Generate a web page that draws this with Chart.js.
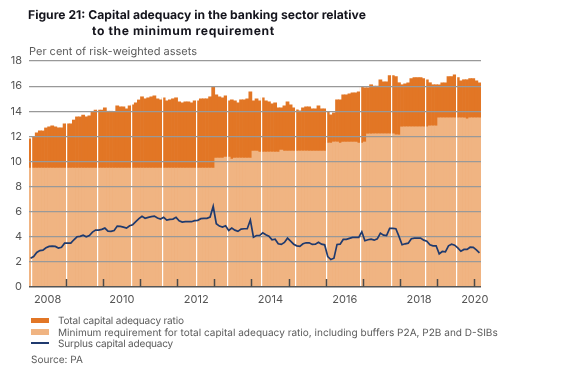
<!DOCTYPE html>
<html lang="en">
<head>
    <meta charset="UTF-8">
    <title>Figure 21</title>
    <script src="https://cdn.jsdelivr.net/npm/chart.js"></script>
    <style>
        html, body {
            margin: 0;
            padding: 0;
            background: #fff;
            font-family: Inter, Arial, sans-serif;
            text-rendering: geometricPrecision;
        }
        #wrap {
            position: relative;
            width: 586px;
            height: 378px;
            overflow: hidden;
        }
        #wrap div, #wrap span {
            position: absolute;
            white-space: nowrap;
        }
        .title {
            font-size: 12.15px;
            font-weight: 700;
            color: #14141c;
            line-height: 16px;
        }
        .note {
            font-size: 10.05px;
            color: #5a5a5a;
            line-height: 12px;
        }
    </style>
</head>
<body>
    <div id="wrap">
        <canvas id="chart" width="586" height="378"></canvas>
        <div class="title" style="left:28px;top:7px">Figure 21: Capital adequacy in the banking sector relative</div>
        <div class="title" style="left:92px;top:23px;letter-spacing:0.6px">to the minimum requirement</div>
        <div class="note" style="left:29px;top:45px;font-size:11px">Per cent of risk-weighted assets</div>
        <span style="left:31px;top:318px;width:18px;height:5px;background:#e27625"></span>
        <div class="note" style="left:58px;top:315px;letter-spacing:-0.18px">Total capital adequacy ratio</div>
        <span style="left:31px;top:329px;width:18px;height:6px;background:#f0b482"></span>
        <div class="note" style="left:58px;top:327px">Minimum requirement for total capital adequacy ratio, including buffers P2A, P2B and D-SIBs</div>
        <span style="left:31px;top:342px;width:18px;height:2px;background:#1f3a6e"></span>
        <div class="note" style="left:58px;top:338px;letter-spacing:-0.2px">Surplus capital adequacy</div>
        <div class="note" style="left:31px;top:354px">Source: PA</div>
    </div>

    <script>
        // monthly, Jan 2008 - Feb 2020
        const totalRatio = [
            11.8, 12.0, 12.27, 12.43, 12.43, 12.67, 12.75, 12.83, 12.75, 12.67, 12.67, 13.0,
            13.0, 13.0, 13.3, 13.55, 13.55, 13.7, 13.55, 13.63, 13.95, 14.1, 14.1, 14.1,
            14.27, 14.0, 14.0, 14.0, 14.43, 14.35, 14.35, 14.2, 14.43, 14.5, 14.67, 14.9,
            15.15, 14.99, 15.07, 15.15, 15.23, 14.99, 14.91, 15.07, 14.83, 14.91, 14.99, 15.07,
            14.75, 14.67, 14.75, 14.75, 14.67, 14.83, 14.83, 14.99, 14.99, 14.99, 15.15, 15.95,
            15.31, 15.15, 15.07, 15.23, 14.83, 14.91, 14.83, 14.67, 14.91, 14.91, 14.99, 15.55,
            14.83, 14.99, 14.83, 15.07, 14.83, 14.75, 14.59, 14.67, 14.27, 14.27, 14.43, 14.75,
            14.51, 14.27, 14.11, 14.03, 14.27, 14.35, 14.35, 14.19, 14.19, 14.43, 14.19, 14.19,
            13.95, 13.71, 13.87, 14.91, 14.91, 15.31, 15.31, 15.39, 15.47, 15.47, 15.55, 15.95,
            15.87, 15.87, 16.11, 16.0, 16.0, 16.51, 16.35, 16.35, 16.83, 16.83, 16.75, 16.27,
            16.11, 16.19, 16.27, 16.59, 16.67, 16.67, 16.67, 16.59, 16.51, 16.27, 16.11, 16.11,
            16.11, 16.27, 16.27, 16.75, 16.75, 16.9, 16.67, 16.43, 16.51, 16.51, 16.59, 16.59,
            16.43, 16.27
        ];
        const minRequirement = [
            9.47, 9.47, 9.47, 9.47, 9.47, 9.47, 9.47, 9.47, 9.47, 9.47, 9.47, 9.47,
            9.47, 9.47, 9.47, 9.47, 9.47, 9.47, 9.47, 9.47, 9.47, 9.47, 9.47, 9.47,
            9.47, 9.47, 9.47, 9.47, 9.47, 9.47, 9.47, 9.47, 9.47, 9.47, 9.47, 9.47,
            9.47, 9.47, 9.47, 9.47, 9.47, 9.47, 9.47, 9.47, 9.47, 9.47, 9.47, 9.47,
            9.47, 9.47, 9.47, 9.47, 9.47, 9.47, 9.47, 9.47, 9.47, 9.47, 9.47, 9.47,
            10.27, 10.27, 10.27, 10.35, 10.35, 10.19, 10.27, 10.27, 10.27, 10.27, 10.27, 10.27,
            10.83, 10.83, 10.75, 10.75, 10.75, 10.75, 10.75, 10.75, 10.75, 10.91, 10.83, 10.83,
            10.83, 10.83, 10.83, 10.83, 10.83, 10.83, 10.83, 10.83, 10.83, 10.83, 10.83, 10.83,
            11.47, 11.47, 11.55, 11.55, 11.47, 11.55, 11.55, 11.55, 11.55, 11.55, 11.47, 11.47,
            11.55, 12.19, 12.19, 12.19, 12.19, 12.19, 12.19, 12.19, 12.19, 12.19, 12.11, 12.11,
            12.75, 12.75, 12.75, 12.75, 12.75, 12.75, 12.75, 12.75, 12.75, 12.83, 12.83, 12.83,
            13.47, 13.47, 13.47, 13.47, 13.47, 13.47, 13.47, 13.47, 13.47, 13.39, 13.47, 13.47,
            13.47, 13.47
        ];
        const surplus = [
            2.29, 2.43, 2.75, 2.9, 2.93, 3.12, 3.23, 3.25, 3.23, 3.1, 3.17, 3.49,
            3.49, 3.49, 3.76, 4.0, 4.03, 4.13, 4.0, 4.1, 4.37, 4.53, 4.53, 4.59,
            4.69, 4.45, 4.43, 4.5, 4.85, 4.83, 4.77, 4.69, 4.88, 4.96, 5.2, 5.44,
            5.63, 5.47, 5.55, 5.6, 5.65, 5.49, 5.41, 5.55, 5.33, 5.39, 5.41, 5.55,
            5.28, 5.17, 5.2, 5.2, 5.2, 5.28, 5.31, 5.44, 5.47, 5.47, 5.57, 6.43,
            5.04, 4.85, 4.77, 4.88, 4.5, 4.69, 4.53, 4.43, 4.61, 4.64, 4.64, 5.33,
            3.97, 4.1, 4.1, 4.32, 4.16, 4.05, 3.76, 3.81, 3.44, 3.39, 3.55, 3.89,
            3.65, 3.41, 3.28, 3.23, 3.44, 3.52, 3.52, 3.39, 3.41, 3.57, 3.41, 3.36,
            2.43, 2.19, 2.29, 3.39, 3.41, 3.79, 3.79, 3.87, 3.95, 3.95, 3.95, 4.4,
            3.68, 3.76, 3.81, 3.73, 3.84, 4.29, 4.13, 4.1, 4.67, 4.67, 4.64, 4.03,
            3.36, 3.44, 3.49, 3.84, 3.89, 3.89, 3.89, 3.73, 3.65, 3.36, 3.28, 3.28,
            2.64, 2.83, 2.8, 3.28, 3.41, 3.33, 3.12, 2.85, 2.99, 2.99, 3.17, 3.15,
            2.96, 2.72
        ];
        const yearLabels = ['2008', '2010', '2012', '2014', '2016', '2018', '2020'];
        const yearLabelMonths = [6, 30, 54, 78, 102, 126, 144];
        const yearTickMonths = [12, 24, 36, 48, 60, 72, 84, 96, 108, 120, 132, 144];
        const gapMonths = [1, 12, 22, 33, 43, 54, 64, 75, 86, 96, 107, 117, 128, 138];

        const categories = totalRatio.map((v, i) => `${2008 + Math.floor(i / 12)}-${i % 12 + 1}`);

        function helperScale(months, extra) {
            return Object.assign({
                type: 'linear',
                position: 'bottom',
                offset: false,
                min: 0,
                max: categories.length,
                afterBuildTicks: scale => { scale.ticks = months.map(m => ({ value: m })); },
                afterFit: scale => { scale.height = 0; }
            }, extra);
        }

        // line goes over the grid, the areas go under it
        const drawLineOnTop = {
            id: 'drawLineOnTop',
            beforeDatasetDraw(chart, args) {
                if (args.index === 2) return false;
            },
            afterDraw(chart) {
                chart.getDatasetMeta(2).controller.draw();
            }
        };

        new Chart(document.getElementById('chart'), {
            type: 'bar',
            data: {
                labels: categories,
                datasets: [
                    {
                        label: 'Total capital adequacy ratio',
                        data: totalRatio,
                        backgroundColor: '#e27625',
                        grouped: false,
                        barPercentage: 1,
                        categoryPercentage: 1,
                        order: 3
                    },
                    {
                        label: 'Minimum requirement for total capital adequacy ratio, including buffers P2A, P2B and D-SIBs',
                        data: minRequirement,
                        backgroundColor: '#f0b482',
                        grouped: false,
                        barPercentage: 1,
                        categoryPercentage: 1,
                        order: 2
                    },
                    {
                        type: 'line',
                        label: 'Surplus capital adequacy',
                        data: surplus,
                        borderColor: '#1f3a6e',
                        borderWidth: 1.7,
                        pointRadius: 0,
                        tension: 0,
                        fill: false,
                        order: 1
                    }
                ]
            },
            plugins: [drawLineOnTop],
            options: {
                responsive: false,
                animation: false,
                layout: { padding: { left: 0, right: 105, top: 61, bottom: 71 } },
                plugins: {
                    legend: { display: false },
                    title: { display: false },
                    tooltip: { enabled: false }
                },
                scales: {
                    x: { type: 'category', offset: true, display: false },
                    xGaps: helperScale(gapMonths, {
                        weight: 0,
                        border: { display: false },
                        grid: { offset: false, color: '#ffffff', lineWidth: 1.2, drawTicks: false, z: 1 },
                        ticks: { display: false }
                    }),
                    // anchored just above zero so the year ticks hang down onto the axis line
                    xTicks: helperScale(yearTickMonths, {
                        position: { y: 0.64 },
                        border: { display: false },
                        grid: { offset: false, drawOnChartArea: false, drawTicks: true, tickLength: 8, tickColor: '#4a4a4a', tickWidth: 1.5, z: 3 },
                        ticks: { display: false }
                    }),
                    xYears: helperScale(yearLabelMonths, {
                        weight: 2,
                        border: { display: false },
                        grid: { offset: false, display: false, drawTicks: false },
                        afterFit: scale => { scale.height = 20; },
                        ticks: {
                            autoSkip: false,
                            maxRotation: 0,
                            padding: 6,
                            color: '#555555',
                            font: { family: 'Inter', size: 11 },
                            callback: (value, index) => yearLabels[index]
                        }
                    }),
                    y: {
                        min: 0,
                        max: 18,
                        afterFit: scale => { scale.width = 29; },
                        border: { display: false },
                        grid: {
                            color: ctx => ctx.tick.value === 0 ? '#555555' : '#999999',
                            lineWidth: ctx => ctx.tick.value === 0 ? 1.5 : 1.2,
                            drawTicks: false,
                            z: 2
                        },
                        ticks: {
                            stepSize: 2,
                            padding: 7,
                            color: '#555555',
                            font: { family: 'Inter', size: 11 }
                        }
                    }
                }
            }
        });
    </script>
</body>
</html>
